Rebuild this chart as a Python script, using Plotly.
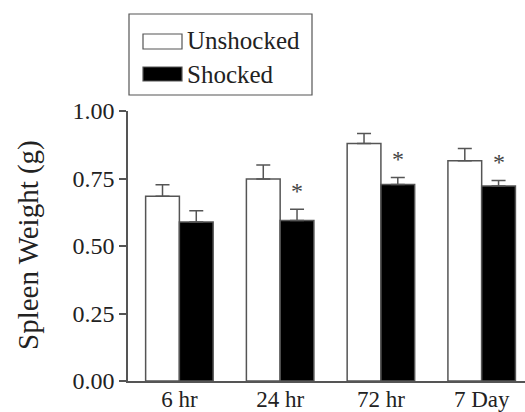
import plotly.graph_objects as go

categories = ["6 hr", "24 hr", "72 hr", "7 Day"]
unshocked = [0.684, 0.748, 0.880, 0.816]
unshocked_se = [0.043, 0.052, 0.037, 0.045]
shocked = [0.589, 0.594, 0.728, 0.722]
shocked_se = [0.042, 0.042, 0.026, 0.021]
significant = [False, True, True, True]
y_ticks = [0.0, 0.25, 0.5, 0.75, 1.0]
y_tick_labels = ["0.00", "0.25", "0.50", "0.75", "1.00"]

FONT = "Liberation Serif, Times New Roman, serif"
TXT = "#222222"
LINE = "#555555"

W, H = 525, 412
L, R, T, B = 128, 0, 111, 31
pw, ph = W - L - R, H - T - B

def px(x):
    return (x - L) / pw

def py(y):
    return (H - B - y) / ph

fig = go.Figure()
fig.add_trace(go.Bar(
    x=categories, y=unshocked, name="Unshocked",
    marker=dict(color="white", line=dict(color=LINE, width=1.5)),
    error_y=dict(type="data", array=unshocked_se, arrayminus=[0]*4, symmetric=False,
                 color=LINE, thickness=1.5, width=7),
    showlegend=False,
))
fig.add_trace(go.Bar(
    x=categories, y=shocked, name="Shocked",
    marker=dict(color="black", line=dict(color=LINE, width=1.5)),
    error_y=dict(type="data", array=shocked_se, arrayminus=[0]*4, symmetric=False,
                 color=LINE, thickness=1.5, width=7),
    showlegend=False,
))

annotations = []
for i, (c, v, s, sig) in enumerate(zip(categories, shocked, shocked_se, significant)):
    if sig:
        annotations.append(dict(
            x=i + 0.17, xref="x", y=v + s, yref="y", text="*", showarrow=False,
            yanchor="bottom", yshift=3, font=dict(family=FONT, size=24, color="#444444"),
        ))

# y-axis title
annotations.append(dict(
    x=px(28), xref="paper", y=py(245), yref="paper", text="Spleen Weight (g)",
    showarrow=False, textangle=-90, xanchor="center", yanchor="middle",
    font=dict(family=FONT, size=29, color=TXT),
))

# custom legend
shapes = [
    dict(type="rect", xref="paper", yref="paper", x0=px(129), x1=px(312), y0=py(95), y1=py(14),
         line=dict(color=LINE, width=1.2), fillcolor="rgba(0,0,0,0)"),
    dict(type="rect", xref="paper", yref="paper", x0=px(143), x1=px(182), y0=py(49), y1=py(34),
         line=dict(color=LINE, width=1.2), fillcolor="white"),
    dict(type="rect", xref="paper", yref="paper", x0=px(143), x1=px(182), y0=py(81), y1=py(67),
         line=dict(color=LINE, width=1.2), fillcolor="black"),
]
for name, yc in [("Unshocked", 41), ("Shocked", 74)]:
    annotations.append(dict(
        x=px(185), xref="paper", y=py(yc), yref="paper", text=name, showarrow=False,
        xanchor="left", yanchor="middle", font=dict(family=FONT, size=25, color=TXT),
    ))

fig.update_layout(
    width=W, height=H,
    margin=dict(l=L, r=R, t=T, b=B, autoexpand=False),
    paper_bgcolor="white", plot_bgcolor="white",
    barmode="group", bargap=0.33, bargroupgap=0,
    font=dict(family=FONT, size=24, color=TXT),
    shapes=shapes, annotations=annotations,
    xaxis=dict(
        range=[-0.51, 3.43], showgrid=False, zeroline=False, automargin=False,
        showline=True, linecolor=LINE, linewidth=1.5, ticks="",
        ticklabelstandoff=-3,
        tickfont=dict(family=FONT, size=23, color=TXT),
    ),
    yaxis=dict(
        range=[0, 1.0], showgrid=False, zeroline=False, automargin=False,
        showline=True, linecolor=LINE, linewidth=1.5,
        ticks="outside", ticklen=7, tickcolor=LINE, tickwidth=1.5,
        tickvals=y_ticks, ticktext=y_tick_labels,
        tickfont=dict(family=FONT, size=24, color=TXT),
    ),
)

fig.write_html(
    "out.html",
    config={"displayModeBar": False},
    post_script="document.body.style.margin='0';document.body.style.overflow='hidden';",
)
